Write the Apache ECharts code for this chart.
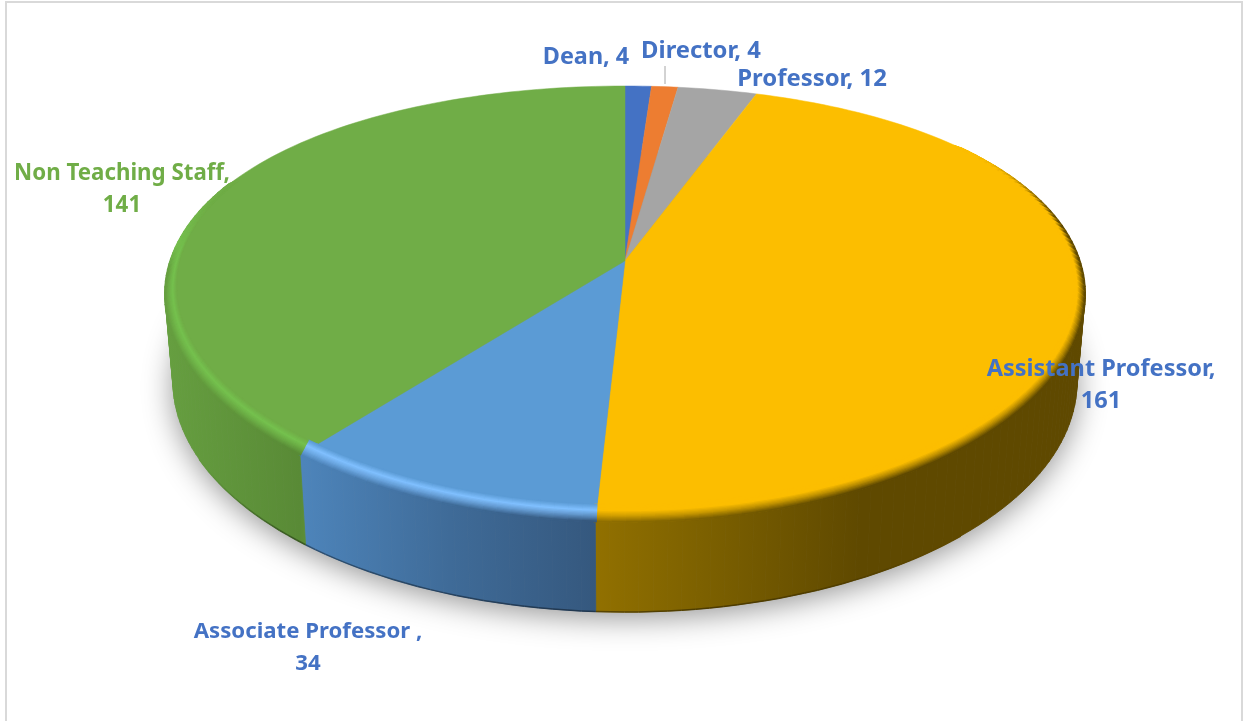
<!DOCTYPE html>
<html>
<head>
<meta charset="utf-8">
<style>html,body{margin:0;padding:0;background:#fff}#c{width:1249px;height:721px}</style>
<script src="https://cdn.jsdelivr.net/npm/echarts@6/dist/echarts.min.js"></script>
</head>
<body>
<div id="c"></div>
<script>
// ---- data ----
var categories = ['Dean', 'Director', 'Professor', 'Assistant Professor', 'Associate Professor ', 'Non Teaching Staff'];
var values = [4, 4, 12, 161, 34, 141];

// ---- style ----
var topColors = ['#4472c4', '#ed7d31', '#a5a5a5', '#fcbe00', '#5b9bd5', '#70ad47'];
var peakColors = ['#4472c4', '#ed7d31', '#a5a5a5', '#fcbe00', '#80c0ff', '#75c14e'];
var sideStops = [
  [[0, '#2f4f88'], [1, '#2f4f88']],
  [[0, '#a4571f'], [1, '#a4571f']],
  [[0, '#737373'], [1, '#737373']],
  [[597, '#917000'], [700, '#7d6100'], [860, '#5f4900'], [1090, '#5f4900']],
  [[304, '#4d84ba'], [450, '#3f6b98'], [596, '#35587e']],
  [[164, '#669f40'], [300, '#598a36'], [312, '#5f9339']]
];
var labelColors = ['#4472c4', '#4472c4', '#4472c4', '#4472c4', '#4472c4', '#70ad47'];
var labelLines = [1, 1, 1, 2, 2, 2];
var labelPos = [[586, 57], [701, 51], [812, 79], [1101, 369], [308, 632], [122, 174]];
var labelSizes = [23.4, 23.8, 23.9, 23.5, 22.2, 22.3];
var lineGap = 32;

// ---- geometry of the tilted disc ----
var CX = 625, K = 0.198;
var faceDisc = {yT: 86, yB: 522, rx: 460, lift: 10};
var innerDisc = {yT: 86, yB: 505, rx: 449, lift: 10};
var baseDisc = {yT: 152, yB: 612, rx: 452, lift: 0};
var RINGS = 14, STEP = 1.5;

var total = values.reduce(function (a, b) { return a + b; }, 0);
var starts = [];
values.reduce(function (s, v, i) { starts[i] = s; return s + v; }, 0);
function angleOf(cum) { return cum / total * 360; }
function discPoint(deg, d) {
  var t = deg * Math.PI / 180, X = Math.sin(t), Y = Math.cos(t);
  var ry = (d.yB - d.yT) / 2, cy = (d.yT + d.yB) / 2;
  var den = 1 + K * Y, s = 1 - K * K;
  return [CX + d.rx * Math.sqrt(s) * X / den, cy - ry * K - ry * s * Y / den - d.lift * X * X];
}
function apex(d) { var ry = (d.yB - d.yT) / 2; return [CX, (d.yT + d.yB) / 2 - ry * K]; }
function lerpDisc(a, b, u) {
  return {yT: a.yT + (b.yT - a.yT) * u, yB: a.yB + (b.yB - a.yB) * u, rx: a.rx + (b.rx - a.rx) * u, lift: a.lift + (b.lift - a.lift) * u};
}
function arc(a0, a1, d) {
  var pts = [], n = Math.max(2, Math.ceil((a1 - a0) / STEP));
  for (var i = 0; i <= n; i++) pts.push(discPoint(a0 + (a1 - a0) * i / n, d));
  return pts;
}
function hex(c) { return [parseInt(c.slice(1, 3), 16), parseInt(c.slice(3, 5), 16), parseInt(c.slice(5, 7), 16)]; }
function mix(a, b, t) {
  var p = hex(a), q = hex(b), r = [0, 1, 2].map(function (i) { return Math.round(p[i] + (q[i] - p[i]) * t); });
  return '#' + r.map(function (v) { return ('0' + v.toString(16)).slice(-2); }).join('');
}
function sideAt(i, x) {
  var st = sideStops[i];
  if (x <= st[0][0]) return st[0][1];
  for (var j = 1; j < st.length; j++) {
    if (x <= st[j][0]) return mix(st[j - 1][1], st[j][1], (x - st[j - 1][0]) / (st[j][0] - st[j - 1][0]));
  }
  return st[st.length - 1][1];
}
function sideFill(i) {
  var st = sideStops[i], x0 = st[0][0], x1 = st[st.length - 1][0];
  if (x1 === x0) return st[0][1];
  return new echarts.graphic.LinearGradient(x0, 0, x1, 0, st.map(function (s) {
    return {offset: (s[0] - x0) / (x1 - x0), color: s[1]};
  }), true);
}
function sliceRange(i) { return [angleOf(starts[i]), angleOf(starts[i] + values[i])]; }

function renderShadow() {
  return {type: 'polygon', shape: {points: arc(0, 360, baseDisc)},
    style: {fill: '#8a8a8a', shadowBlur: 30, shadowColor: 'rgba(0,0,0,0.42)', shadowOffsetY: 6}};
}
function renderSide(p) {
  var i = p.dataIndex, r = sliceRange(i), kids = [];
  var lo = Math.max(r[0], 70), hi = Math.min(r[1], 290);
  if (hi <= lo) return null;
  var f = sideFill(i), n = Math.ceil((hi - lo) / STEP);
  for (var s = 0; s < n; s++) {
    var a0 = lo + (hi - lo) * s / n, a1 = lo + (hi - lo) * (s + 1) / n;
    kids.push({type: 'polygon', shape: {points: [discPoint(a0, faceDisc), discPoint(a1, faceDisc), discPoint(a1, baseDisc), discPoint(a0, baseDisc)]},
      style: {fill: f, stroke: f, lineWidth: 0.8}});
  }
  return {type: 'group', children: kids};
}
function smooth(e0, e1, v) { var t = Math.min(1, Math.max(0, (v - e0) / (e1 - e0))); return t * t * (3 - 2 * t); }
function renderEdge(p) {
  var i = p.dataIndex, r = sliceRange(i), lo = Math.max(r[0], 140), hi = Math.min(r[1], 240), kids = [];
  if (hi <= lo) return null;
  var n = Math.ceil((hi - lo) / STEP);
  for (var s = 0; s < n; s++) {
    var a0 = lo + (hi - lo) * s / n, a1 = lo + (hi - lo) * (s + 1) / n, mid = (a0 + a1) / 2;
    var f = smooth(140, 175, mid) * (1 - smooth(215, 240, mid));
    var pa = discPoint(a0, baseDisc), pb = discPoint(a1, baseDisc);
    kids.push({type: 'polyline', shape: {points: [pa, pb]},
      style: {fill: null, stroke: mix(sideAt(i, pa[0]), '#000000', 0.38 * f), lineWidth: 1.5}});
  }
  return {type: 'group', children: kids};
}
function renderFace(p) {
  var i = p.dataIndex, r = sliceRange(i), c = topColors[i];
  var pts = [apex(faceDisc)].concat(arc(r[0], r[1], faceDisc));
  return {type: 'polygon', shape: {points: pts}, style: {fill: c, stroke: c, lineWidth: 0.5}};
}
function renderBevel(p) {
  var i = p.dataIndex, r = sliceRange(i), kids = [];
  var n = Math.ceil((r[1] - r[0]) / STEP);
  for (var s = 0; s < n; s++) {
    var a0 = r[0] + (r[1] - r[0]) * s / n, a1 = r[0] + (r[1] - r[0]) * (s + 1) / n, mid = (a0 + a1) / 2;
    var Y = Math.cos(mid * Math.PI / 180), X = Math.sin(mid * Math.PI / 180);
    var w = X < 0 ? 1 - smooth(-0.05, 0.35, Y) : 1 - smooth(0.1, 0.55, Y);
    if (w <= 0) continue;
    var sw = X < 0 ? 1 - smooth(-0.12, 0.06, Y) : 1;
    var x = discPoint(mid, faceDisc)[0], side = mix(peakColors[i], sideAt(i, x), sw);
    var pk = mix(topColors[i], peakColors[i], w);
    for (var k = 0; k <= RINGS; k++) {
      var u = k / RINGS, col;
      if (u < 0.35) col = mix(topColors[i], pk, u / 0.35);
      else if (u < 0.65) col = mix(pk, mix(pk, side, 0.4), (u - 0.35) / 0.3);
      else col = mix(mix(pk, side, 0.4), side, (u - 0.65) / 0.35);
      col = mix(topColors[i], col, w);
      var d = lerpDisc(innerDisc, faceDisc, u);
      kids.push({type: 'polyline', shape: {points: [discPoint(a0 - 0.15, d), discPoint(a1 + 0.15, d)]},
        style: {fill: null, stroke: col, lineWidth: 2}});
    }
  }
  return {type: 'group', children: kids};
}
function renderLabel(p) {
  var i = p.dataIndex, pos = labelPos[i], name = categories[i], kids = [];
  var lines = labelLines[i] === 2 ? [name + ',', String(values[i])] : [name + ', ' + values[i]];
  lines.forEach(function (t, j) {
    kids.push({type: 'text', style: {text: t, x: pos[0], y: pos[1] + j * lineGap, fill: labelColors[i],
      font: 'bold ' + labelSizes[i] + 'px "Noto Sans", "Open Sans", sans-serif', textAlign: 'center', textVerticalAlign: 'middle'}});
  });
  return {type: 'group', children: kids};
}
function renderLeader() {
  return {type: 'line', shape: {x1: 665, y1: 66, x2: 665, y2: 84}, style: {stroke: '#a6a6a6', lineWidth: 1}};
}

function layer(fn, z, data) {
  return {type: 'custom', coordinateSystem: 'none', renderItem: fn, data: data || values, z: z, silent: true, animation: false};
}

var chart = echarts.init(document.getElementById('c'), null, {renderer: 'canvas'});
chart.setOption({
  backgroundColor: '#ffffff',
  animation: false,
  graphic: [{type: 'polyline', silent: true, z: 0,
    shape: {points: [[6, 721], [6, 2], [1242, 2], [1242, 721]]},
    style: {fill: null, stroke: '#d9d9d9', lineWidth: 2}}],
  series: [
    layer(renderShadow, 1, [0]),
    layer(renderSide, 2),
    layer(renderEdge, 3),
    layer(renderFace, 4),
    layer(renderBevel, 5),
    layer(renderLeader, 6, [0]),
    layer(renderLabel, 7)
  ]
});
</script>
</body>
</html>
